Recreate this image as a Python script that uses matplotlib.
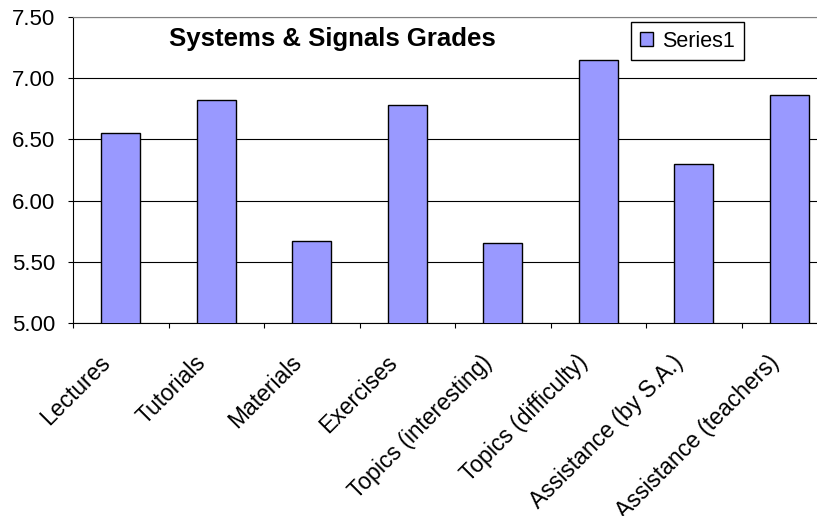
import numpy as np
import matplotlib
matplotlib.use('Agg')
import matplotlib.pyplot as plt
import matplotlib.transforms as mtransforms

plt.rcParams['font.family'] = ['Liberation Sans', 'DejaVu Sans']

categories = ['Lectures', 'Tutorials', 'Materials', 'Exercises',
              'Topics (interesting)', 'Topics (difficulty)',
              'Assistance (by S.A.)', 'Assistance (teachers)']
grades = [6.55, 6.82, 5.67, 6.78, 5.65, 7.15, 6.30, 6.86]
yticks = [5.00, 5.50, 6.00, 6.50, 7.00, 7.50]

W, H = 817, 516
fig = plt.figure(figsize=(W / 100, H / 100), dpi=100)
# plot area runs a bit past the right edge, as in the original crop
left, right, top, bottom = 73, 837, 17, 323
ax = fig.add_axes([left / W, 1 - bottom / H, (right - left) / W, (bottom - top) / H])

x = np.arange(len(categories))
bars = ax.bar(x, grades, width=0.41, color='#9999FF', edgecolor='black',
              linewidth=1.0, label='Series1', zorder=3)

ax.set_ylim(5.0, 7.5)
ax.set_xlim(-0.5, len(categories) - 0.5)
ax.set_yticks(yticks)
ax.set_yticklabels(['%.2f' % v for v in yticks], fontsize=16)
ax.yaxis.grid(True, color='black', linewidth=0.8, zorder=0)

ax.set_xticks(x)
ax.set_xticklabels(categories, fontsize=16.5, rotation=45, ha='right',
                   va='top', rotation_mode='anchor')
ax.set_xticks(np.arange(-0.5, len(categories), 1.0), minor=True)
ax.tick_params(axis='x', which='major', length=0, pad=20)
ax.tick_params(axis='x', which='minor', length=3.6, width=0.8, direction='out')
ax.tick_params(axis='y', length=3.6, width=0.8, direction='out', pad=9.4)

offset = mtransforms.ScaledTranslation(-22 / 100, 0, fig.dpi_scale_trans)
for lbl in ax.get_xticklabels():
    lbl.set_transform(lbl.get_transform() + offset)

for side in ['top', 'right']:
    ax.spines[side].set_color('#808080')
for side in ['left', 'bottom']:
    ax.spines[side].set_color('black')
    ax.spines[side].set_linewidth(0.8)

fig.text(169 / W, 1 - 46 / H, 'Systems & Signals Grades', fontsize=18.5,
         fontweight='bold', ha='left', va='baseline')

leg = ax.legend(loc='upper left', bbox_to_anchor=(631 / W, 1 - 22 / H),
                bbox_transform=fig.transFigure, fontsize=15.5, fancybox=False,
                framealpha=1, edgecolor='black', handlelength=0.6,
                handleheight=0.6, handletextpad=0.45, borderpad=0.4,
                borderaxespad=0)
leg.get_frame().set_linewidth(1.0)

fig.savefig('out.png', dpi=100)
